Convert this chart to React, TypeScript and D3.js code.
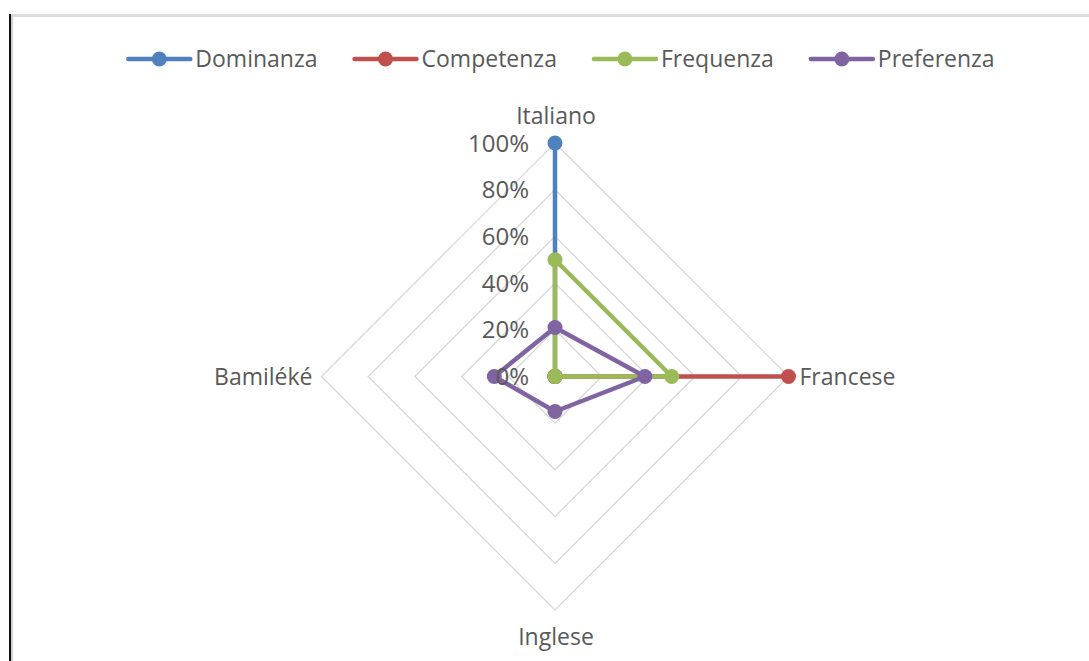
import { useEffect, useRef } from 'react'
import * as d3 from 'd3'

const WIDTH = 1089
const HEIGHT = 661
const CX = 555
const CY = 376.5
const RADIUS = 233.5
const FONT = '"Open Sans", "DejaVu Sans", sans-serif'
const TEXT_COLOR = '#595959'

const CATEGORIES = ['Italiano', 'Francese', 'Inglese', 'Bamiléké']
const TICKS = [0, 0.2, 0.4, 0.6, 0.8, 1]

const SERIES_NAMES = ['Dominanza', 'Competenza', 'Frequenza', 'Preferenza']
const SERIES_COLORS = ['#4f81bd', '#c0504d', '#9bbb59', '#8064a2']
const DOMINANZA = [1, 0, 0, 0]
const COMPETENZA = [0, 1, 0, 0]
const FREQUENZA = [0.5, 0.5, 0, 0]
const PREFERENZA = [0.21, 0.385, 0.15, 0.26]
const SERIES_VALUES = [DOMINANZA, COMPETENZA, FREQUENZA, PREFERENZA]

export default function App() {
  const ref = useRef<SVGSVGElement | null>(null)

  useEffect(() => {
    document.body.style.margin = '0'
    const svg = d3.select(ref.current)
    svg.selectAll('*').remove()

    const r = d3.scaleLinear().domain([0, 1]).range([0, RADIUS])
    // Italiano on top, then clockwise
    const angleOf = (i: number) => (i / CATEGORIES.length) * 2 * Math.PI
    const px = (i: number, v: number) => CX + r(v) * Math.sin(angleOf(i))
    const py = (i: number, v: number) => CY - r(v) * Math.cos(angleOf(i))

    // frame
    svg.append('rect').attr('width', WIDTH).attr('height', HEIGHT).attr('fill', '#fff')
    svg.append('line').attr('x1', 10).attr('x2', WIDTH).attr('y1', 15.5).attr('y2', 15.5)
      .attr('stroke', '#dcdcdc').attr('stroke-width', 3)
    svg.append('line').attr('x1', 12).attr('x2', 12).attr('y1', 14).attr('y2', HEIGHT)
      .attr('stroke', '#d0d0d0').attr('stroke-width', 2)
    svg.append('line').attr('x1', 10).attr('x2', 10).attr('y1', 14).attr('y2', HEIGHT)
      .attr('stroke', '#111').attr('stroke-width', 2)

    // grid rings
    const ringLine = d3.line<[number, number]>().curve(d3.curveLinearClosed)
    svg.append('g').selectAll('path')
      .data(TICKS.filter((t) => t > 0))
      .join('path')
      .attr('d', (t) => ringLine(CATEGORIES.map((_, i) => [px(i, t), py(i, t)])))
      .attr('fill', 'none')
      .attr('stroke', '#d4d4d4')
      .attr('stroke-width', 1.2)

    // series
    const seriesG = svg.append('g')
    SERIES_VALUES.forEach((values, s) => {
      const pts = values.map((v, i) => [px(i, v), py(i, v)] as [number, number])
      seriesG.append('path')
        .attr('d', ringLine(pts))
        .attr('fill', 'none')
        .attr('stroke', SERIES_COLORS[s])
        .attr('stroke-width', 4.5)
        .attr('stroke-linejoin', 'round')
      seriesG.append('g').selectAll('circle')
        .data(pts)
        .join('circle')
        .attr('cx', (d) => d[0])
        .attr('cy', (d) => d[1])
        .attr('r', 7.5)
        .attr('fill', SERIES_COLORS[s])
    })

    // tick labels
    svg.append('g').selectAll('text')
      .data(TICKS)
      .join('text')
      .attr('x', CX - 26)
      .attr('y', (t) => CY - r(t))
      .attr('dy', '0.36em')
      .attr('text-anchor', 'end')
      .attr('font-family', FONT)
      .attr('font-size', 24)
      .attr('fill', TEXT_COLOR)
      .text((t) => d3.format('.0%')(t))

    // category labels
    const catG = svg.append('g')
      .attr('font-family', FONT)
      .attr('font-size', 23)
      .attr('fill', TEXT_COLOR)
    CATEGORIES.forEach((c, i) => {
      const a = angleOf(i)
      const sx = Math.sin(a)
      const cy = Math.cos(a)
      const t = catG.append('text').text(c)
      if (Math.abs(sx) < 0.01) {
        t.attr('x', CX + 1).attr('text-anchor', 'middle')
        if (cy > 0) t.attr('y', CY - RADIUS - 19)
        else t.attr('y', CY + RADIUS + 35)
      } else {
        t.attr('y', CY).attr('dy', '0.36em')
        if (sx > 0) t.attr('x', CX + RADIUS + 11).attr('text-anchor', 'start')
        else t.attr('x', CX - RADIUS - 9).attr('text-anchor', 'end')
      }
    })

    // legend
    const LEG_Y = 59
    const LEG_CX = 561.5
    const LINE_W = 62
    const TEXT_GAP = 5
    const ITEM_GAP = 37
    const legend = svg.append('g')
    const items = SERIES_NAMES.map((name, s) => {
      const g = legend.append('g')
      g.append('line').attr('x1', 0).attr('x2', LINE_W).attr('y1', LEG_Y).attr('y2', LEG_Y)
        .attr('stroke', SERIES_COLORS[s]).attr('stroke-width', 4.5).attr('stroke-linecap', 'round')
      g.append('circle').attr('cx', LINE_W / 2).attr('cy', LEG_Y).attr('r', 7.5).attr('fill', SERIES_COLORS[s])
      const txt = g.append('text').attr('x', LINE_W + TEXT_GAP).attr('y', LEG_Y).attr('dy', '0.36em')
        .attr('font-family', FONT).attr('font-size', 23).attr('fill', TEXT_COLOR).text(name)
      const w = (txt.node() as SVGTextElement).getComputedTextLength()
      return { g, width: LINE_W + TEXT_GAP + w }
    })
    const total = d3.sum(items, (d) => d.width) + ITEM_GAP * (items.length - 1)
    let x0 = LEG_CX - total / 2
    items.forEach((it) => {
      it.g.attr('transform', `translate(${x0},0)`)
      x0 += it.width + ITEM_GAP
    })
  }, [])

  return (
    <svg
      ref={ref}
      width={WIDTH}
      height={HEIGHT}
      viewBox={`0 0 ${WIDTH} ${HEIGHT}`}
      style={{ position: 'absolute', left: 0, top: 0, display: 'block' }}
    />
  )
}
